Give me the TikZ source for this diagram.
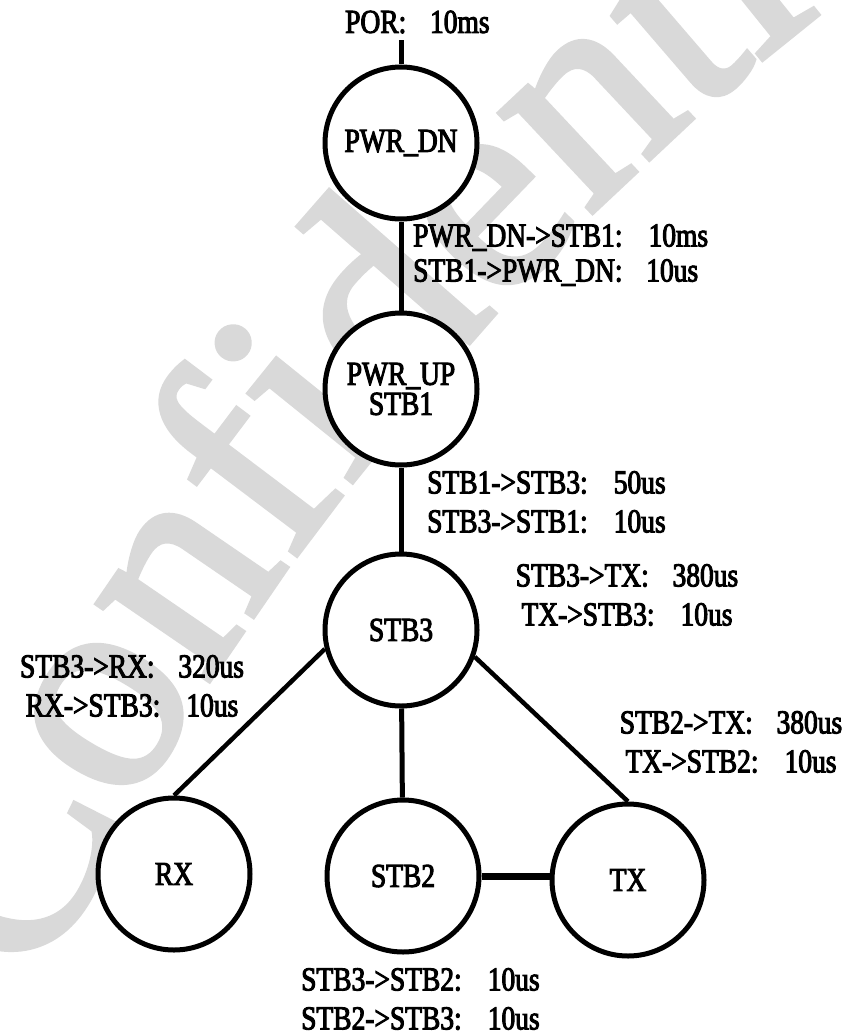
\documentclass[tikz,border=0pt]{standalone}
\usepackage{fontspec}
\setmainfont[FakeStretch=0.82,FakeBold=3,WordSpace=2]{Liberation Serif}
\newfontfamily\wmfont[FakeBold=2]{Liberation Serif}
\usetikzlibrary{decorations.text}
\definecolor{wmGray}{RGB}{217,217,217}
\newcommand{\fc}{:\hspace{0.3em}}
\newcommand{\statefont}{\fontsize{33.5}{30}\selectfont}
\newcommand{\notefont}{\fontsize{33.5}{39}\selectfont}

\begin{document}
\begin{tikzpicture}[x=1pt,y=-1pt,
    state/.style={circle, draw, line width=5pt, fill=white, minimum size=152pt, inner sep=0pt, font=\statefont},
    note/.style={inner sep=0pt, font=\notefont},
    link/.style={line width=5pt}]
  \useasboundingbox (0,0) rectangle (854,1033);
  \clip (0,0) rectangle (854,1033);

  % watermark behind everything
  \path[decorate, decoration={text along path, text color=wmGray,
      text={|\wmfont\fontsize{295}{295}\selectfont|Confidential}}]
    (45,990) .. controls (205,600) and (610,110) .. (1060,-150);

  % states
  \node[note, anchor=west] (por) at (345,22) {POR\fc{} 10ms};
  \node[state] (pwrdn) at (401,143) {PWR\_DN};
  \node[state, align=center] (pwrup) at (401,389) {PWR\_UP\\STB1};
  \node[state] (stb3) at (401,630) {STB3};
  \node[state] (rx) at (174,874) {RX};
  \node[state] (stb2) at (403,876) {STB2};
  \node[state] (tx) at (628,880) {TX};

  % transitions
  \draw[link, shorten >=6pt] (pwrdn.north) -- (pwrdn.north |- por.south);
  \draw[link] (pwrdn) -- (pwrup);
  \draw[link] (pwrup) -- (stb3);
  \draw[link] (stb3) -- (stb2);
  \draw[link, line width=4.5pt] (stb3.194) -- (rx.north);
  \draw[link, line width=4.5pt] (stb3.-20) -- (tx.north);
  \draw[link, line width=7pt] (stb2.east) -- (stb2.east -| tx.west);

  % timings
  \node[note, anchor=west, align=left, font=\fontsize{33.5}{35}\selectfont] (tdnup) at (413,255)
    {PWR\_DN->STB1\fc{} 10ms\\STB1->PWR\_DN\fc{} 10us};
  \node[note, anchor=west, align=left] (tup3) at (427,502)
    {STB1->STB3\fc{} 50us\\STB3->STB1\fc{} 10us};
  \node[note, align=center] (t3tx) at (627,595)
    {STB3->TX\fc{} 380us\\TX->STB3\fc{} 10us};
  \node[note, align=center] (t2tx) at (731,742)
    {STB2->TX\fc{} 380us\\TX->STB2\fc{} 10us};
  \node[note, align=center] (t3rx) at (132,686)
    {STB3->RX\fc{} 320us\\RX->STB3\fc{} 10us};
  \node[note, anchor=west, align=left] (t32) at (301,999)
    {STB3->STB2\fc{} 10us\\STB2->STB3\fc{} 10us};
\end{tikzpicture}
\end{document}
